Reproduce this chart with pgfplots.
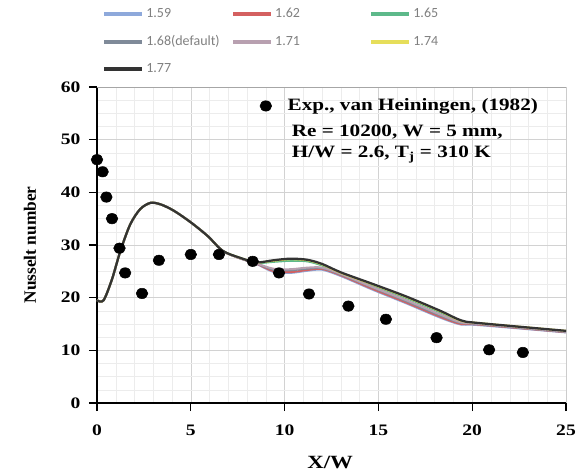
\documentclass[border=0pt]{standalone}
\usepackage{fontspec}
\setmainfont{Liberation Serif}[FakeStretch=1.22]
\newfontfamily\plainserif{Liberation Serif}
\newfontfamily\legfont{Carlito}
\usepackage{pgfplots}
\pgfplotsset{compat=1.18}
\definecolor{cA}{HTML}{8EA9DB}
\definecolor{cB}{HTML}{D46060}
\definecolor{cC}{HTML}{5DB98A}
\definecolor{cD}{HTML}{7F8A99}
\definecolor{cE}{HTML}{B8A0B0}
\definecolor{cF}{HTML}{E6DE5A}
\definecolor{cG}{HTML}{333333}
\definecolor{leggray}{HTML}{808080}
\begin{document}
\begin{tikzpicture}
\path[use as bounding box] (-72.75pt,-53.25pt) rectangle (363pt,302.25pt);
\begin{axis}[at={(0pt,0pt)}, anchor=south west, scale only axis,
  width=351.75pt, height=237pt,
  xmin=0, xmax=25, ymin=0, ymax=60,
  xtick={0,5,...,25}, ytick={0,10,...,60},
  minor x tick num=4, minor y tick num=3,
  grid=both,
  major grid style={gray!35, line width=0.4pt},
  minor grid style={gray!15, line width=0.3pt},
  axis lines=left, axis line style={-, black, line width=1.3pt},
  tick align=outside, major tick length=6pt, minor tick length=0pt,
  tick style={black, line width=0.9pt},
  /pgf/number format/assume math mode=true,
  ticklabel style={font=\fontsize{12}{14}\selectfont\bfseries},
  xticklabel style={yshift=-7pt},
  yticklabel style={xshift=-3pt},
  xlabel={X/W}, ylabel={Nusselt number},
  xlabel style={font=\fontsize{14}{16}\selectfont\bfseries, at={(axis description cs:0.497,-0.187)}, anchor=center},
  ylabel style={font=\plainserif\fontsize{13}{15}\selectfont\bfseries, at={(axis description cs:-0.143,0.5)}, anchor=center},
  legend columns=3,
  legend cell align=left,
  legend image code/.code={\draw[#1, line width=3pt] (0pt,0pt) -- (28pt,0pt);},
  legend style={draw=none, fill=none, inner sep=0pt,
    at={(axis description cs:0.0107,1.2595)}, anchor=north west,
    font=\legfont\fontsize{10.5}{12}\selectfont, text=leggray,
    nodes={inner xsep=2pt, inner ysep=2pt},
    row sep=8pt,
    /tikz/column 2/.style={column sep=6.6pt},
    /tikz/column 4/.style={column sep=50pt}},
  every axis plot/.append style={line width=1.5pt, smooth, tension=0.5, no markers},
]
% 1.59
\addplot[cA] coordinates {(0,19.5)(0.35,19.5)(0.8,23.5)(1.25,28.9)(1.77,33.9)(2.3,36.8)(2.85,38.0)(3.4,37.7)(4.1,36.5)(5.0,34.3)(5.9,31.7)(6.7,28.9)(7.6,27.5)(8.5,26.4)(9.4,24.9)(10.3,24.7)(11.2,25.1)(12.0,25.3)(13.0,24.1)(14.7,21.5)(16.5,18.9)(18.3,16.2)(19.4,14.9)(20.3,14.8)(25,13.4)};
\addlegendentry{1.59}
% 1.62
\addplot[cB] coordinates {(0,19.5)(0.35,19.5)(0.8,23.5)(1.25,28.9)(1.77,33.9)(2.3,36.8)(2.85,38.0)(3.4,37.7)(4.1,36.5)(5.0,34.3)(5.9,31.7)(6.7,28.9)(7.6,27.5)(8.5,26.45)(9.4,25.05)(10.3,24.85)(11.2,25.25)(12.0,25.45)(13.0,24.25)(14.7,21.65)(16.5,19.05)(18.3,16.35)(19.4,15.0)(20.3,14.9)(25,13.45)};
\addlegendentry{1.62}
% 1.65
\addplot[cC] coordinates {(0,19.5)(0.35,19.5)(0.8,23.5)(1.25,28.9)(1.77,33.9)(2.3,36.8)(2.85,38.0)(3.4,37.7)(4.1,36.5)(5.0,34.3)(5.9,31.7)(6.7,28.9)(7.6,27.6)(8.5,26.6)(9.4,26.8)(10.3,27.0)(11.2,26.9)(12.0,26.1)(13.0,24.5)(14.7,22.3)(16.5,19.9)(18.3,17.2)(19.4,15.5)(20.3,15.1)(25,13.6)};
\addlegendentry{1.65}
% 1.68
\addplot[cD] coordinates {(0,19.5)(0.35,19.5)(0.8,23.5)(1.25,28.9)(1.77,33.9)(2.3,36.8)(2.85,38.0)(3.4,37.7)(4.1,36.5)(5.0,34.3)(5.9,31.7)(6.7,28.9)(7.6,27.5)(8.5,26.5)(9.4,25.3)(10.3,25.2)(11.2,25.5)(12.0,25.6)(13.0,24.4)(14.7,21.9)(16.5,19.3)(18.3,16.6)(19.4,15.2)(20.3,15.0)(25,13.5)};
\addlegendentry{1.68(default)}
% 1.71
\addplot[cE] coordinates {(0,19.5)(0.35,19.5)(0.8,23.5)(1.25,28.9)(1.77,33.9)(2.3,36.8)(2.85,38.0)(3.4,37.7)(4.1,36.5)(5.0,34.3)(5.9,31.7)(6.7,28.9)(7.6,27.5)(8.5,26.5)(9.4,25.5)(10.3,25.4)(11.2,25.7)(12.0,25.7)(13.0,24.5)(14.7,22.0)(16.5,19.5)(18.3,16.8)(19.4,15.3)(20.3,15.05)(25,13.55)};
\addlegendentry{1.71}
% 1.74
\addplot[cF] coordinates {(0,19.5)(0.35,19.5)(0.8,23.5)(1.25,28.9)(1.77,33.9)(2.3,36.8)(2.85,38.0)(3.4,37.7)(4.1,36.5)(5.0,34.3)(5.9,31.7)(6.7,28.9)(7.6,27.6)(8.5,26.7)(9.4,27.0)(10.3,27.3)(11.2,27.1)(12.0,26.3)(13.0,24.7)(14.7,22.5)(16.5,20.1)(18.3,17.4)(19.4,15.6)(20.3,15.2)(25,13.7)};
\addlegendentry{1.74}
% 1.77
\addplot[cG, line width=1.7pt] coordinates {(0,19.5)(0.35,19.5)(0.8,23.5)(1.25,28.9)(1.77,33.9)(2.3,36.8)(2.85,38.0)(3.4,37.7)(4.1,36.5)(5.0,34.3)(5.9,31.7)(6.7,28.9)(7.6,27.6)(8.5,26.7)(9.4,27.1)(10.3,27.4)(11.2,27.2)(12.0,26.4)(13.0,24.8)(14.7,22.6)(16.5,20.2)(18.3,17.5)(19.4,15.7)(20.3,15.2)(25,13.7)};
\addlegendentry{1.77}
% experiment
\addplot[only marks, mark=*, mark size=3.9pt, mark options={xscale=1.12}, black, forget plot, line width=0.4pt] coordinates {(0,46.2)(0.3,43.9)(0.5,39.1)(0.8,35.0)(1.2,29.4)(1.5,24.7)(2.4,20.8)(3.3,27.1)(5.0,28.2)(6.5,28.2)(8.3,26.9)(9.7,24.7)(11.3,20.7)(13.4,18.4)(15.4,15.9)(18.1,12.4)(20.9,10.1)(22.7,9.6)};
\draw[gray!70, line width=0.5pt] (rel axis cs:0,1) -- (rel axis cs:1,1) -- (rel axis cs:1,0);
\node[anchor=base west, font=\fontsize{13}{15}\selectfont\bfseries, inner sep=0pt] at (axis description cs:0.415,0.842) {Re = 10200, W = 5 mm,};
\node[anchor=base west, font=\fontsize{13}{15}\selectfont\bfseries, inner sep=0pt] at (axis description cs:0.415,0.778) {H/W = 2.6, T\textsubscript{j} = 310 K};
\end{axis}
\begin{axis}[at={(0pt,0pt)}, anchor=south west, scale only axis,
  width=351.75pt, height=237pt, hide axis,
  xmin=0, xmax=1, ymin=0, ymax=1,
  legend style={draw=none, fill=none, inner sep=0pt,
    at={(axis description cs:0.347,0.94)}, anchor=west,
    font=\fontsize{13}{15}\selectfont\bfseries,
    /tikz/column 1/.style={column sep=10pt}},
]
\addlegendimage{only marks, mark=*, mark size=3.9pt, mark options={xscale=1.12}, black}
\addlegendentry{Exp., van Heiningen, (1982)}
\end{axis}
\end{tikzpicture}
\end{document}
